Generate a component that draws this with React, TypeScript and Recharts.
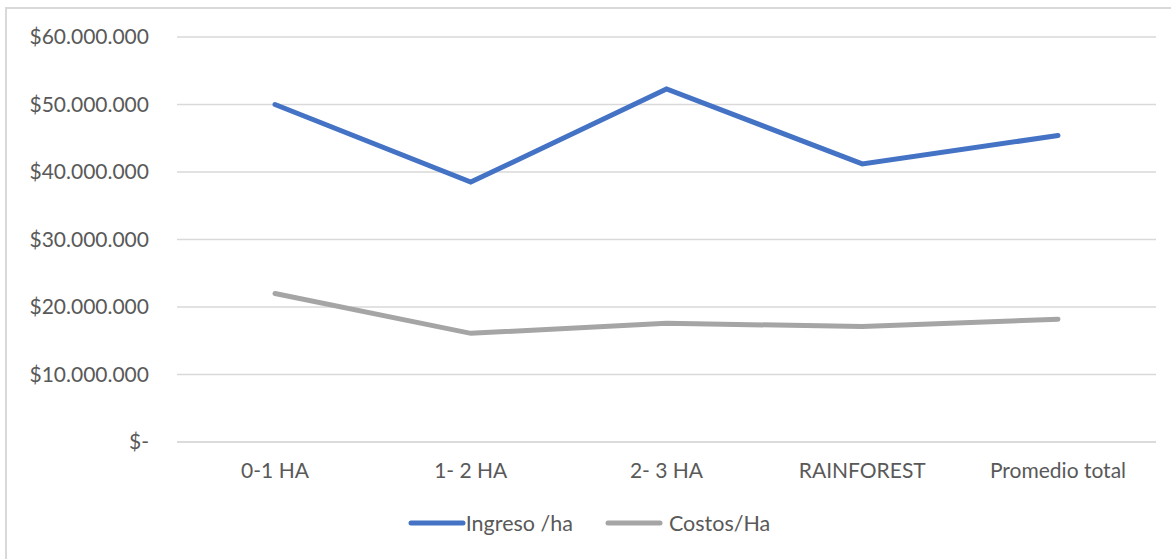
import React from "react";
import { LineChart, Line, XAxis, YAxis, CartesianGrid, Legend } from "recharts";

const categories = ["0-1 HA", "1- 2 HA", "2- 3 HA", "RAINFOREST", "Promedio total"];
const ingreso = [50000000, 38500000, 52300000, 41200000, 45400000];
const costos = [22000000, 16100000, 17600000, 17100000, 18200000];
const yTicks = [0, 10000000, 20000000, 30000000, 40000000, 50000000, 60000000];
const seriesOrder = ["Ingreso /ha", "Costos/Ha"];

const data = categories.map((name, i) => ({
  name,
  ingreso: ingreso[i],
  costos: costos[i],
}));

const FONT = "Lato, 'Open Sans', sans-serif";
const TEXT = "#595959";

const formatMoney = (v: number) => {
  if (v === 0) return "$-";
  return "$" + v.toLocaleString("de-DE");
};

const renderLegend = (props: any) => {
  const items = [...(props.payload || [])].sort(
    (a: any, b: any) => seriesOrder.indexOf(a.value) - seriesOrder.indexOf(b.value)
  );
  return (
    <div
      style={{
        height: 72,
        display: "flex",
        alignItems: "center",
        justifyContent: "center",
        paddingLeft: 22,
        fontFamily: FONT,
        fontSize: 21.5,
        color: TEXT,
      }}
    >
      {items.map((it: any, i: number) => (
        <div key={i} style={{ display: "flex", alignItems: "center", marginRight: i === 0 ? 32 : 0 }}>
          <svg width={58} height={8} style={{ marginRight: i === 0 ? 0 : 6 }}>
            <line x1={3} y1={4} x2={55} y2={4} stroke={it.color} strokeWidth={5} strokeLinecap="round" />
          </svg>
          <span>{it.value}</span>
        </div>
      ))}
    </div>
  );
};

export default function App() {
  return (
    <div style={{ position: "absolute", left: 0, top: 0, width: 1171, height: 559, background: "#fff", overflow: "hidden" }}>
      <div
        style={{
          position: "absolute",
          left: 5,
          top: 7,
          width: 1200,
          height: 600,
          borderLeft: "2px solid #D9D9D9",
          borderTop: "2px solid #D9D9D9",
        }}
      />
      <LineChart
        width={1171}
        height={559}
        data={data}
        margin={{ top: 37, right: 15, bottom: 0, left: 0 }}
        style={{ position: "absolute", left: 0, top: 0 }}
      >
        <CartesianGrid stroke="#D9D9D9" strokeWidth={1.5} vertical={false} />
        <XAxis
          dataKey="name"
          height={45}
          padding={{ left: 98, right: 98 }}
          axisLine={{ stroke: "#D9D9D9", strokeWidth: 1.5 }}
          tickLine={false}
          tickSize={0}
          tickMargin={21}
          tick={{ fill: TEXT, fontSize: 21, fontFamily: FONT }}
        />
        <YAxis
          width={177}
          domain={[0, 60000000]}
          ticks={yTicks}
          axisLine={false}
          tickLine={false}
          tickSize={0}
          tickMargin={28}
          tickFormatter={formatMoney}
          tick={{ fill: TEXT, fontSize: 21, fontFamily: FONT }}
        />
        <Legend verticalAlign="bottom" content={renderLegend} />
        <Line
          type="linear"
          dataKey="ingreso"
          name="Ingreso /ha"
          stroke="#4472C4"
          strokeWidth={5}
          strokeLinecap="round"
          dot={false}
          isAnimationActive={false}
        />
        <Line
          type="linear"
          dataKey="costos"
          name="Costos/Ha"
          stroke="#A5A5A5"
          strokeWidth={5}
          strokeLinecap="round"
          dot={false}
          isAnimationActive={false}
        />
      </LineChart>
    </div>
  );
}
